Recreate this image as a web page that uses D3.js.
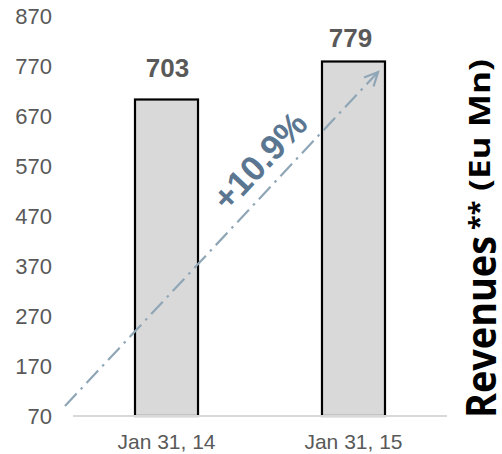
<!DOCTYPE html>
<html><head><meta charset="utf-8">
<script src="https://cdn.jsdelivr.net/npm/d3@7"></script>
<style>html,body{margin:0;padding:0;background:#fff}</style>
</head><body>
<svg id="c" width="502" height="454"></svg>
<script>
const categories = ["Jan 31, 14", "Jan 31, 15"];
const revenues = [703, 779];
const tickValues = [70, 170, 270, 370, 470, 570, 670, 770, 870];
const growthLabel = "+10.9%";
const arrowValues = [90, 758];   // value levels where the growth arrow starts / ends
const axisTitle = ["Revenues", "**", "(Eu Mn)"];

const svg = d3.select("#c");
const font = "'Liberation Sans', Arimo, Arial, sans-serif";

const y = d3.scaleLinear().domain([70, 870]).range([416, 16]);
const x = d3.scaleBand().domain(categories).range([73, 447]).paddingInner(0.663).paddingOuter(0.3316);

// bars
svg.selectAll("rect.bar").data(revenues).join("rect")
  .attr("class", "bar")
  .attr("x", (d, i) => x(categories[i]))
  .attr("y", d => y(d))
  .attr("width", x.bandwidth())
  .attr("height", d => y(70) - y(d))
  .attr("fill", "#d9d9d9")
  .attr("stroke", "#000")
  .attr("stroke-width", 2.2);

// baseline
svg.append("line")
  .attr("x1", x.range()[0]).attr("x2", x.range()[1])
  .attr("y1", y(70)).attr("y2", y(70))
  .attr("stroke", "#d9d9d9").attr("stroke-width", 2);

// y tick labels
svg.selectAll("text.yt").data(tickValues).join("text")
  .attr("class", "yt")
  .attr("x", 52).attr("y", d => y(d))
  .attr("dy", "0.36em")
  .attr("text-anchor", "end")
  .attr("font-family", font).attr("font-size", 22)
  .attr("fill", "#595959")
  .text(d => d);

// category labels
svg.selectAll("text.xt").data(categories).join("text")
  .attr("class", "xt")
  .attr("x", d => x(d) + x.bandwidth() / 2)
  .attr("y", 449)
  .attr("text-anchor", "middle")
  .attr("font-family", font).attr("font-size", 21)
  .attr("fill", "#595959")
  .text(d => d);

// value labels
const labelGap = [23, 15];
svg.selectAll("text.vl").data(revenues).join("text")
  .attr("class", "vl")
  .attr("x", (d, i) => x(categories[i]) + x.bandwidth() / 2 + (i === 1 ? -3 : 1))
  .attr("y", (d, i) => y(d) - labelGap[i])
  .attr("text-anchor", "middle")
  .attr("font-family", font).attr("font-size", 26).attr("font-weight", "bold")
  .attr("fill", "#595959")
  .text(d => d);

// growth arrow
const x0 = x.range()[0] - 8, y0 = y(arrowValues[0]);
const x1 = x(categories[1]) + x.bandwidth() * 0.89, y1 = y(arrowValues[1]);
const arrowColor = "#8fa6b7";
svg.append("line")
  .attr("x1", x0).attr("y1", y0).attr("x2", x1).attr("y2", y1)
  .attr("stroke", arrowColor).attr("stroke-width", 2.2)
  .attr("stroke-dasharray", "17,6,2.5,6");
const ang = Math.atan2(y1 - y0, x1 - x0);
const headLen = 15, headAng = Math.PI / 7;
const head = d3.path();
head.moveTo(x1 - headLen * Math.cos(ang - headAng), y1 - headLen * Math.sin(ang - headAng));
head.lineTo(x1, y1);
head.lineTo(x1 - headLen * Math.cos(ang + headAng), y1 - headLen * Math.sin(ang + headAng));
svg.append("path").attr("d", head.toString())
  .attr("fill", "none").attr("stroke", arrowColor).attr("stroke-width", 2.2)
  .attr("stroke-linejoin", "miter");

// growth label along the arrow
const len = Math.hypot(x1 - x0, y1 - y0);
const ux = (x1 - x0) / len, uy = (y1 - y0) / len;
const along = 312, perp = 26;
const tx = x0 + ux * along + uy * perp, ty = y0 + uy * along - ux * perp;
svg.append("text")
  .attr("transform", `translate(${tx},${ty}) rotate(${ang * 180 / Math.PI})`)
  .attr("text-anchor", "middle").attr("dy", "0.36em")
  .attr("font-family", font).attr("font-size", 35).attr("font-weight", "bold")
  .attr("fill", "#5b7690")
  .text(growthLabel);

// right axis title (rotated)
const tfont = "'Open Sans', 'Noto Sans', sans-serif";
svg.append("text")
  .attr("transform", "translate(496,418) rotate(-90)")
  .attr("font-family", tfont).attr("font-size", 41).attr("font-weight", "bold")
  .attr("fill", "#000")
  .attr("textLength", 182).attr("lengthAdjust", "spacingAndGlyphs")
  .text(axisTitle[0]);
svg.append("text")
  .attr("transform", "translate(488,230) rotate(-90)")
  .attr("font-family", tfont).attr("font-size", 27).attr("font-weight", "bold")
  .attr("fill", "#000")
  .text(axisTitle[1]);
svg.append("text")
  .attr("transform", "translate(490,191) rotate(-90)")
  .attr("font-family", tfont).attr("font-size", 28).attr("font-weight", "bold")
  .attr("fill", "#000")
  .attr("textLength", 132).attr("lengthAdjust", "spacingAndGlyphs")
  .text(axisTitle[2]);
</script>
</body></html>
